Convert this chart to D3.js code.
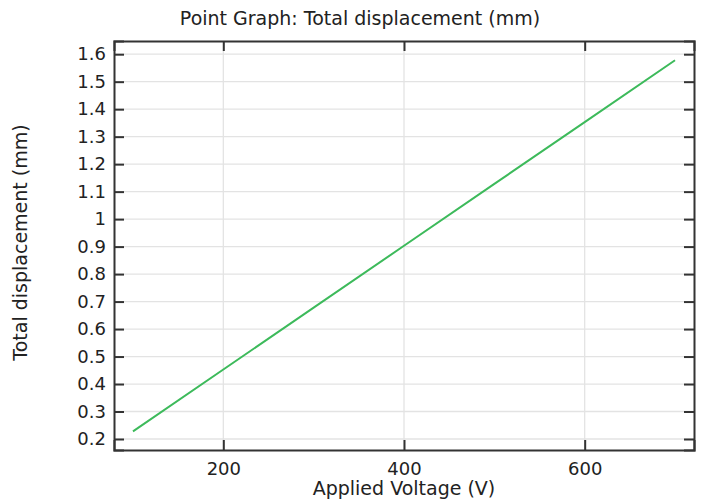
<!DOCTYPE html>
<html>
<head>
<meta charset="utf-8">
<script src="https://cdn.jsdelivr.net/npm/d3@7"></script>
<style>
  body { margin: 0; background: #fff; }
  text { font-family: "DejaVu Sans", sans-serif; fill: #222; }
</style>
</head>
<body>
<svg id="chart" width="704" height="500"></svg>
<script>
// applied voltage (V) and total displacement (mm)
const voltages = [100, 200, 300, 400, 500, 600, 700];
const displacements = [0.228, 0.453, 0.678, 0.903, 1.128, 1.353, 1.578];
const xTicks = [200, 400, 600];
const yTicks = [0.2, 0.3, 0.4, 0.5, 0.6, 0.7, 0.8, 0.9, 1, 1.1, 1.2, 1.3, 1.4, 1.5, 1.6];

const margin = { top: 41, right: 10, bottom: 50, left: 114 };
const width = 704, height = 500;

const svg = d3.select('#chart');

const x = d3.scaleLinear().domain([79, 721]).range([margin.left, width - margin.right]);
const y = d3.scaleLinear().domain([0.16, 1.648]).range([height - margin.bottom, margin.top]);

// grid
svg.append('g').selectAll('line').data(xTicks).enter().append('line')
    .attr('x1', d => x(d)).attr('x2', d => x(d))
    .attr('y1', y.range()[0]).attr('y2', y.range()[1])
    .attr('stroke', '#e3e3e3').attr('stroke-width', 1.3);
svg.append('g').selectAll('line').data(yTicks).enter().append('line')
    .attr('x1', x.range()[0]).attr('x2', x.range()[1])
    .attr('y1', d => y(d)).attr('y2', d => y(d))
    .attr('stroke', '#e3e3e3').attr('stroke-width', 1.3);

// data line
const line = d3.line().x((d, i) => x(voltages[i])).y(d => y(d));
svg.append('path').datum(displacements)
    .attr('d', line).attr('fill', 'none')
    .attr('stroke', '#3dba5b').attr('stroke-width', 2);

// axes, ticks pointing inward
const tickFont = 18, labelFont = 19;
const bottomAxis = d3.axisBottom(x).tickValues(xTicks).tickSize(-10).tickPadding(12).tickFormat(d3.format('d'));
const topAxis = d3.axisTop(x).tickValues(xTicks).tickSize(-10).tickFormat('');
const leftAxis = d3.axisLeft(y).tickValues(yTicks).tickSize(-10).tickPadding(8).tickFormat(d => String(d));
const rightAxis = d3.axisRight(y).tickValues(yTicks).tickSize(-10).tickFormat('');

function styleAxis(g) {
    g.selectAll('.domain').attr('stroke', '#333').attr('stroke-width', 2);
    g.selectAll('.tick line').attr('stroke', '#333').attr('stroke-width', 2);
    g.selectAll('text').attr('font-size', tickFont).attr('font-family', 'DejaVu Sans').attr('fill', '#222');
}

svg.append('g').attr('transform', `translate(0,${height - margin.bottom})`).call(bottomAxis).call(styleAxis);
svg.append('g').attr('transform', `translate(0,${margin.top})`).call(topAxis).call(styleAxis);
svg.append('g').attr('transform', `translate(${margin.left},0)`).call(leftAxis).call(styleAxis);
svg.append('g').attr('transform', `translate(${width - margin.right},0)`).call(rightAxis).call(styleAxis);

// labels
svg.append('text').attr('x', 360).attr('y', 25).attr('text-anchor', 'middle')
    .attr('font-size', labelFont).text('Point Graph: Total displacement (mm)');
svg.append('text').attr('x', (x.range()[0] + x.range()[1]) / 2).attr('y', 495).attr('text-anchor', 'middle')
    .attr('font-size', labelFont).text('Applied Voltage (V)');
svg.append('text').attr('transform', `translate(27,${(y.range()[0] + y.range()[1]) / 2 - 3}) rotate(-90)`)
    .attr('text-anchor', 'middle').attr('font-size', labelFont).text('Total displacement (mm)');
</script>
</body>
</html>
